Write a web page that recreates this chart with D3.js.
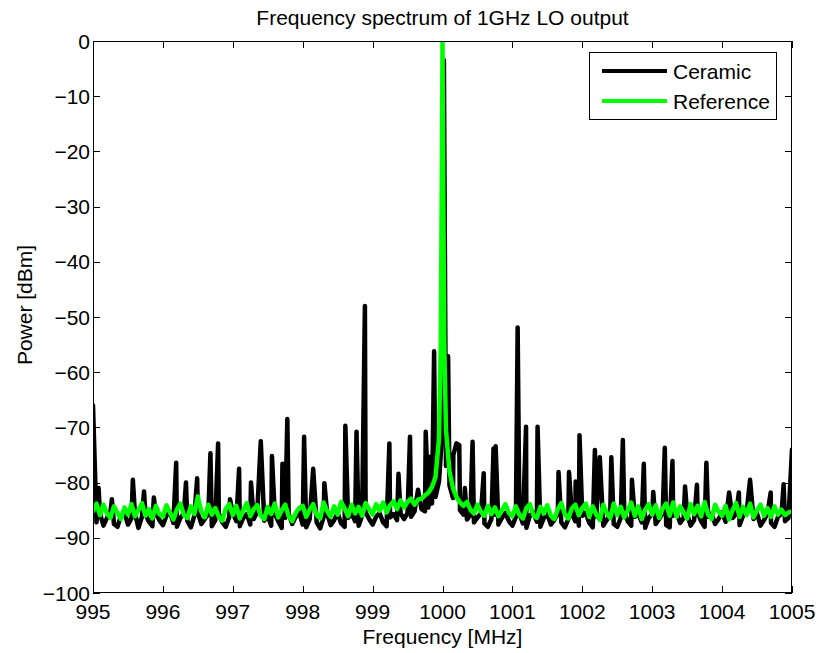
<!DOCTYPE html>
<html>
<head>
<meta charset="utf-8">
<script src="https://d3js.org/d3.v7.min.js"></script>
<style>
  body { margin: 0; background: #fff; }
  svg text { font-family: "Liberation Sans", Arial, Helvetica, sans-serif; fill: #000; }
</style>
</head>
<body>
<svg id="chart" width="819" height="653"></svg>
<script>
// ---- data ----
const xTicks = [995, 996, 997, 998, 999, 1000, 1001, 1002, 1003, 1004, 1005];
const yTicks = [0, -10, -20, -30, -40, -50, -60, -70, -80, -90, -100];
const seriesNames = ["Ceramic", "Reference"];

// sweep grid: 995 .. 1005 MHz, 0.05 MHz per sample (201 samples)
const sweepStart = 995, sweepStep = 0.05;

// Ceramic resonator LO: noise floor samples (dBm)
const ceramicFloor = [
  -66, -87.2, -85.6, -87.8, -86.4, -85.3, -87.5, -88.0, -86.0, -85.4, -87.6, -86.5, -85.5, -88.2, -86.2, -85.7, -87.1, -87.9, -85.6, -86.8,
  -87.7, -86.0, -85.3, -87.3, -88.0, -86.4, -85.6, -87.0, -88.1, -86.0, -85.4, -87.5, -86.6, -85.7, -87.9, -86.8, -85.6, -87.2, -88.0, -86.2,
  -85.5, -87.0, -87.9, -86.4, -85.7, -87.6, -86.6, -85.3, -88.0, -86.9, -86.0, -87.8, -85.6, -87.0, -88.2, -86.4, -85.7, -87.5, -86.2, -85.4,
  -87.6, -88.1, -86.6, -85.7, -87.2, -88.3, -86.2, -85.6, -87.7, -86.8, -85.5, -87.4, -88.0, -86.4, -85.6, -87.0, -87.8, -86.0, -85.4, -86.6,
  -87.6, -86.2, -85.5, -87.2, -87.9, -86.3, -85.7, -86.8, -85.6, -86.6, -85.5, -86.2, -85.2, -85.6, -84.8, -85.2, -84.5, -83.8, -82.6, -79.8,
  -70.0, -77.0, -80.5, -82.8, -84.0, -85.0, -85.8, -86.7, -85.9, -87.2, -86.3, -85.6, -87.4, -88.0, -86.6, -85.8, -87.6, -86.4, -85.5, -87.0,
  -87.8, -86.2, -85.6, -87.4, -88.2, -86.0, -85.4, -87.1, -88.0, -86.4, -85.7, -87.6, -86.8, -85.5, -87.2, -88.1, -86.6, -85.6, -87.0, -87.8,
  -86.0, -85.5, -87.3, -88.1, -86.2, -85.6, -87.8, -86.8, -85.7, -87.5, -88.0, -86.4, -85.4, -87.0, -87.8, -86.2, -85.6, -87.2, -88.2, -86.4,
  -85.7, -87.5, -86.6, -85.5, -87.7, -88.1, -86.0, -85.6, -87.3, -86.4, -85.7, -87.8, -86.8, -85.5, -87.0, -88.0, -86.2, -85.6, -87.5, -86.6,
  -85.4, -87.1, -88.0, -86.4, -85.7, -87.7, -86.0, -85.5, -87.3, -86.6, -85.6, -87.8, -86.8, -85.5, -87.3, -88.0, -86.2, -85.7, -87.0, -86.4,
  -74
];

// Ceramic spurs: [MHz, dBm]
const ceramicSpurs = [
  [995.08, -81], [995.27, -83], [995.57, -79.5], [995.73, -81.6], [995.87, -82.7],
  [996.19, -76.4], [996.33, -80], [996.49, -79.2], [996.68, -74.7], [996.79, -72.9], [996.96, -83],
  [997.09, -77.5], [997.26, -80], [997.40, -72.5], [997.56, -75.2], [997.71, -76.6], [997.78, -68.5],
  [998.02, -71.7], [998.15, -77.5], [998.31, -80.1], [998.61, -69.7], [998.77, -70.8], [998.89, -48],
  [999.24, -72.9], [999.37, -78.4], [999.535, -71.7], [999.65, -81.3], [999.76, -70.8], [999.82, -75.3], [999.88, -56.2],
  [1000.02, -3.5], [1000.08, -57.1], [1000.155, -75], [1000.2, -72.9], [1000.24, -73.2], [1000.32, -81],
  [1000.43, -72.6], [1000.59, -78.3], [1000.73, -73.8], [1000.76, -73.4],
  [1001.075, -51.9], [1001.195, -69.9], [1001.36, -69.9], [1001.66, -78.1], [1001.81, -78.1], [1001.905, -79.8], [1001.96, -71.4],
  [1002.18, -74.1], [1002.25, -75.4], [1002.415, -75.4], [1002.58, -72.3], [1002.71, -79.5], [1002.88, -76.6],
  [1003.015, -81.7], [1003.18, -73.7], [1003.29, -76.1], [1003.47, -80.7], [1003.64, -80.4], [1003.775, -76.4],
  [1004.10, -81.8], [1004.24, -81.8], [1004.40, -79.5], [1004.695, -81.8], [1004.88, -80.3]
];

// Reference LO: noise floor samples (dBm)
const referenceFloor = [
  -85.2, -83.8, -85.9, -84.0, -85.6, -86.4, -84.3, -85.5, -86.6, -84.5, -85.8, -83.9, -86.1, -85.0, -83.7, -86.0, -84.8, -86.5, -84.2, -85.7,
  -86.2, -84.1, -85.4, -86.7, -84.9, -83.8, -85.9, -86.4, -84.3, -85.7, -82.5, -85.3, -86.3, -84.0, -85.8, -84.6, -86.2, -86.9, -84.7, -83.9,
  -85.9, -84.2, -86.5, -85.0, -83.7, -86.1, -84.8, -84.1, -86.0, -86.6, -84.4, -85.7, -83.8, -86.3, -85.0, -84.0, -86.1, -87.0, -85.5, -84.6,
  -84.2, -86.2, -84.9, -83.9, -85.9, -86.5, -83.6, -85.2, -86.2, -84.3, -85.8, -83.5, -84.7, -86.1, -84.0, -85.6, -84.4, -86.0, -83.7, -84.8,
  -85.8, -83.9, -85.1, -83.6, -85.4, -84.1, -83.4, -84.8, -83.2, -84.5, -83.5, -82.9, -84.0, -83.1, -82.9, -82.3, -81.8, -80.8, -79.0, -72.0,
  0.0, -70.5, -78.0, -81.0, -82.6, -83.6, -84.2, -83.5, -84.9, -85.6, -84.0, -85.3, -86.0, -84.2, -85.7, -84.5, -86.1, -85.0, -83.9, -85.5,
  -86.1, -84.3, -85.8, -86.5, -84.6, -83.9, -85.9, -86.4, -84.4, -85.6, -84.1, -86.0, -86.6, -84.8, -83.7, -85.7, -86.5, -84.7, -84.0, -85.9,
  -84.6, -83.8, -86.2, -84.3, -85.8, -86.8, -84.0, -85.5, -86.4, -83.8, -85.9, -84.4, -86.3, -85.0, -83.6, -86.0, -84.3, -86.6, -84.9, -83.9,
  -85.8, -84.1, -86.4, -84.7, -83.8, -86.0, -83.6, -86.2, -84.3, -85.4, -86.5, -83.9, -85.7, -84.2, -86.1, -83.5, -85.8, -86.6, -84.0, -85.3,
  -86.0, -84.2, -86.7, -85.0, -83.7, -86.2, -84.4, -85.9, -83.8, -86.3, -85.0, -84.0, -86.0, -84.6, -86.2, -84.3, -85.8, -84.9, -85.9, -85.4,
  -85.2
];

// Reference carrier skirt, extra samples: [MHz, dBm]
const referenceCarrier = [
  [999.975, -55], [999.99, -25], [1000.01, -25], [1000.025, -55]
];

// ---- layout ----
const W = 819, H = 653;
const plot = { left: 93, right: 792, top: 41, bottom: 593 };
const tickLen = 7;

const svg = d3.select("#chart");

const x = d3.scaleLinear().domain([995, 1005]).range([plot.left, plot.right]);
const y = d3.scaleLinear().domain([-100, 0]).range([plot.bottom, plot.top]);

function buildSeries(floor, extra) {
  let pts = floor.map((v, i) => [sweepStart + i * sweepStep, v]);
  extra.forEach(e => {
    pts = pts.filter(p => Math.abs(p[0] - e[0]) > 0.004);
    pts.push(e);
  });
  return pts.sort((a, b) => a[0] - b[0]);
}

const ceramic = buildSeries(ceramicFloor, ceramicSpurs);
const reference = buildSeries(referenceFloor, referenceCarrier);

svg.append("rect").attr("width", W).attr("height", H).attr("fill", "#fff");

svg.append("clipPath").attr("id", "plotClip")
  .append("rect")
  .attr("x", plot.left).attr("y", plot.top)
  .attr("width", plot.right - plot.left).attr("height", plot.bottom - plot.top);

// ticks, inward on all four sides (boxed axes)
const tickG = svg.append("g").attr("stroke", "#000").attr("stroke-width", 1);
xTicks.forEach(t => {
  const px = Math.round(x(t)) + 0.5;
  tickG.append("line").attr("x1", px).attr("x2", px).attr("y1", plot.bottom).attr("y2", plot.bottom - tickLen);
  tickG.append("line").attr("x1", px).attr("x2", px).attr("y1", plot.top).attr("y2", plot.top + tickLen);
});
yTicks.forEach(t => {
  const py = Math.round(y(t)) + 0.5;
  tickG.append("line").attr("x1", plot.left).attr("x2", plot.left + tickLen).attr("y1", py).attr("y2", py);
  tickG.append("line").attr("x1", plot.right).attr("x2", plot.right - tickLen).attr("y1", py).attr("y2", py);
});

// data lines
const line = d3.line().x(d => x(d[0])).y(d => y(d[1]));
const lines = svg.append("g").attr("clip-path", "url(#plotClip)");
lines.append("path").datum(ceramic)
  .attr("d", line).attr("fill", "none").attr("stroke", "#000")
  .attr("stroke-width", 4.5).attr("stroke-linejoin", "round").attr("stroke-linecap", "round");
lines.append("path").datum(reference)
  .attr("d", line).attr("fill", "none").attr("stroke", "#00ff00")
  .attr("stroke-width", 4.5).attr("stroke-linejoin", "round").attr("stroke-linecap", "round");

// axes box
svg.append("rect")
  .attr("x", plot.left + 0.5).attr("y", plot.top + 0.5)
  .attr("width", plot.right - plot.left - 1).attr("height", plot.bottom - plot.top - 1)
  .attr("fill", "none").attr("stroke", "#000").attr("stroke-width", 1);

const fontSize = 21;
const fmt = v => (v < 0 ? "\u2212" + Math.abs(v) : String(v));

// tick labels
svg.append("g").selectAll("text").data(xTicks).join("text")
  .attr("x", d => x(d)).attr("y", 619)
  .attr("text-anchor", "middle").attr("font-size", fontSize)
  .text(d => d);
svg.append("g").selectAll("text").data(yTicks).join("text")
  .attr("x", plot.left - 3).attr("y", d => y(d))
  .attr("dy", "0.36em")
  .attr("text-anchor", "end").attr("font-size", fontSize)
  .text(fmt);

// titles
svg.append("text")
  .attr("x", (plot.left + plot.right) / 2).attr("y", 25)
  .attr("text-anchor", "middle").attr("font-size", fontSize)
  .text("Frequency spectrum of 1GHz LO output");
svg.append("text")
  .attr("x", (plot.left + plot.right) / 2).attr("y", 644)
  .attr("text-anchor", "middle").attr("font-size", fontSize)
  .text("Frequency [MHz]");
svg.append("text")
  .attr("transform", "translate(32, 305) rotate(-90)")
  .attr("text-anchor", "middle").attr("font-size", fontSize)
  .text("Power [dBm]");

// legend
const legend = svg.append("g");
legend.append("rect")
  .attr("x", 589.5).attr("y", 52.5).attr("width", 187).attr("height", 67)
  .attr("fill", "#fff").attr("stroke", "#000").attr("stroke-width", 1);
const legendColors = ["#000", "#00ff00"];
seriesNames.forEach((name, i) => {
  const ly = 71 + i * 30;
  legend.append("line")
    .attr("x1", 602).attr("x2", 667).attr("y1", ly).attr("y2", ly)
    .attr("stroke", legendColors[i]).attr("stroke-width", 4);
  legend.append("text")
    .attr("x", 673).attr("y", ly).attr("dy", "0.36em")
    .attr("font-size", fontSize)
    .text(name);
});
</script>
</body>
</html>
